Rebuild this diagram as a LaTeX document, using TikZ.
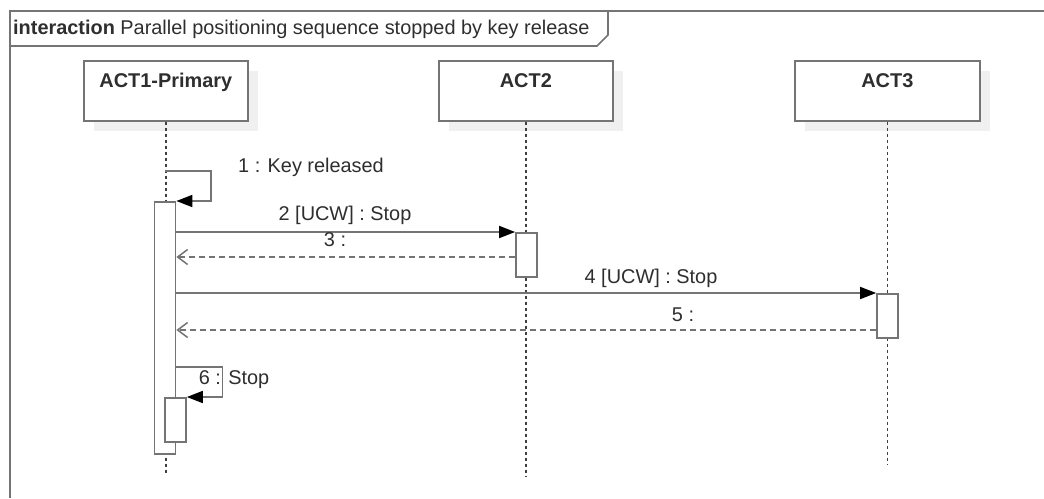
\documentclass[tikz,border=0pt]{standalone}
\usepackage{fontspec}
\setmainfont{Liberation Sans}
\usetikzlibrary{arrows.meta,calc,shadows}
\definecolor{ink}{HTML}{2E2E2E}
\definecolor{umlline}{HTML}{747474}
\definecolor{lifegray}{HTML}{404040}
\definecolor{shadowfill}{HTML}{F0F0F0}

\begin{document}
\begin{tikzpicture}[
  x=1pt, y=-1pt,
  font=\fontsize{19.9}{23}\selectfont,
  frame/.style={draw=umlline, line width=1.7pt},
  actor/.style={draw=umlline, line width=1.7pt, fill=white, text=ink,
    font=\fontsize{19.9}{23}\selectfont\bfseries, anchor=north west, inner sep=0pt,
    text height=27pt, text depth=33pt,
    general shadow={fill=shadowfill, shadow xshift=10pt, shadow yshift=-10pt}},
  lifeline/.style={draw=lifegray, line width=1.4pt, dash pattern=on 3pt off 3pt},
  actbar/.style={draw=umlline, line width=1.7pt, fill=white, minimum width=21pt,
    inner sep=0pt, anchor=north},
  call/.style={draw=umlline, line width=1.7pt, -{Triangle[length=16pt, width=12pt, color=black]}},
  reply/.style={draw=umlline, line width=1.7pt, dash pattern=on 6pt off 4pt,
    -{Straight Barb[length=10pt, width=15pt, line width=1.5pt]}},
  msglabel/.style={text=ink, inner sep=0pt}
]
\useasboundingbox (0,0) rectangle (1044,498);

% frame with its name tab
\draw[frame] (10,498) -- (10,11) -- (1044,11);
\draw[frame] (10,46) -- (597,46) -- (608,35) -- (608,11);
\node[msglabel, anchor=west] (title) at (13,29) {\textbf{interaction} Parallel positioning sequence stopped by key release};

% actors
\node[actor, minimum width=164pt] (act1) at (83,60) {ACT1-Primary};
\node[actor, minimum width=174pt] (act2) at (438,60) {ACT2};
\node[actor, minimum width=185pt] (act3) at (794,60) {ACT3};

\coordinate (end1) at (0,473);
\coordinate (end2) at (0,476);
\coordinate (end3) at (0,465);
\draw[lifeline] (act1.south) -- (act1.south |- end1);
\draw[lifeline] (act2.south) -- (act2.south |- end2);
\draw[lifeline] (act3.south) -- (act3.south |- end3);

% activations
\node[actbar, minimum height=252pt] (a1) at (165,201) {};
\node[actbar, minimum height=44pt] (a2) at (526.5,232) {};
\node[actbar, minimum height=44pt] (a3) at (887.5,293) {};
\node[actbar, minimum height=44pt] (a1n) at (175.5,397) {};

% messages
\coordinate (m1) at (165,171);
\coordinate (m3) at (0,257);
\coordinate (m5) at (0,330);
\coordinate (m6) at (0,367);
\draw[call] (m1) -- ++(46,0) |- (a1.north east);
\draw[call] (a1.east |- a2.north) -- (a2.north west);
\draw[reply] (a2.west |- m3) -- (a1.east |- m3);
\draw[call] (a1.east |- a3.north) -- (a3.north west);
\draw[reply] (a3.west |- m5) -- (a1.east |- m5);
\draw[call] (a1.east |- m6) -- ++(46,0) |- (a1n.north east);

\node[msglabel] (l1) at (311,167) {1 : Key released};
\node[msglabel] (l2) at (345,215) {2 [UCW] : Stop};
\node[msglabel] (l3) at (335,240) {3 :};
\node[msglabel] (l4) at (651,278) {4 [UCW] : Stop};
\node[msglabel] (l5) at (683,315) {5 :};
\node[msglabel] (l6) at (234,380) {6 : Stop};
\end{tikzpicture}
\end{document}
